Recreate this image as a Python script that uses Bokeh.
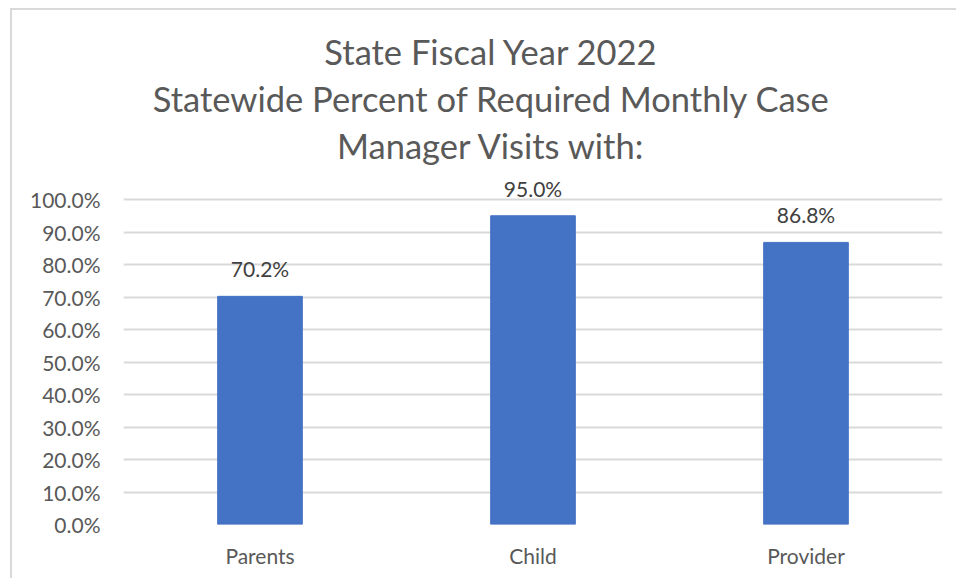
from bokeh.plotting import figure
from bokeh.models import (ColumnDataSource, FixedTicker, PrintfTickFormatter,
                          LabelSet, Label, Range1d, FactorRange)
from bokeh.core.properties import value
from bokeh.embed import file_html
from bokeh.resources import INLINE

categories = ["Parents", "Child", "Provider"]
values = [70.2, 95.0, 86.8]
value_labels = ["70.2%", "95.0%", "86.8%"]
y_ticks = [0, 10, 20, 30, 40, 50, 60, 70, 80, 90, 100]
title_lines = ["State Fiscal Year 2022",
               "Statewide Percent of Required Monthly Case",
               "Manager Visits with:"]

FONT = "Lato"
BAR = "#4472C4"
GRID = "#d9d9d9"
TXT = "#595959"

# layout (pixels on the canvas)
W, H = 946, 570
FRAME_LEFT, FRAME_RIGHT, FRAME_BOTTOM = 111, 16, 56
FRAME_H = H - FRAME_BOTTOM          # frame runs up to the canvas top
PX_PER_100 = 325                    # 0% .. 100% span in pixels
y_end = 100 * FRAME_H / PX_PER_100

src = ColumnDataSource(dict(cat=categories, val=values, lab=value_labels))

p = figure(x_range=FactorRange(*categories), y_range=Range1d(0, y_end),
           width=W, height=H, output_backend="svg", toolbar_location=None,
           min_border_left=FRAME_LEFT, min_border_right=FRAME_RIGHT,
           min_border_top=0, min_border_bottom=FRAME_BOTTOM)
p.styles = {"margin-left": "10px", "margin-top": "8px",
            "border-top": "2px solid #d9d9d9", "border-left": "2px solid #d9d9d9"}
p.outline_line_color = None
p.background_fill_color = "white"
p.border_fill_color = "white"

p.vbar(x="cat", top="val", width=0.31, source=src, fill_color=BAR, line_color=BAR)

p.xgrid.grid_line_color = None
p.ygrid.grid_line_color = GRID
p.ygrid.grid_line_width = 2
p.ygrid.ticker = FixedTicker(ticks=y_ticks)

p.yaxis.ticker = FixedTicker(ticks=y_ticks)
p.yaxis.formatter = PrintfTickFormatter(format="%.1f%%")
p.yaxis.axis_line_color = None
p.yaxis.major_tick_line_color = None
p.yaxis.minor_tick_line_color = None
p.yaxis.major_label_standoff = 17
p.yaxis.major_label_text_font = FONT
p.yaxis.major_label_text_font_size = "21px"
p.yaxis.major_label_text_color = TXT

p.xaxis.axis_line_color = None
p.xaxis.major_tick_line_color = None
p.xaxis.major_label_standoff = 12
p.xaxis.major_label_text_font = FONT
p.xaxis.major_label_text_font_size = "21px"
p.xaxis.major_label_text_color = TXT

labels = LabelSet(x="cat", y="val", text="lab", source=src, text_align="center",
                  text_baseline="bottom", y_offset=15, text_font=value(FONT),
                  text_font_size=value("21px"), text_color=value("#404040"))
p.add_layout(labels)

for i, line in enumerate(title_lines):
    t = Label(x=368, y=473 - i * 47, x_units="screen", y_units="screen",
              text=line, text_align="center", text_baseline="middle",
              text_font=FONT, text_font_size="34.5px", text_color=TXT)
    p.add_layout(t)

open("out.html", "w").write(file_html(p, INLINE))
